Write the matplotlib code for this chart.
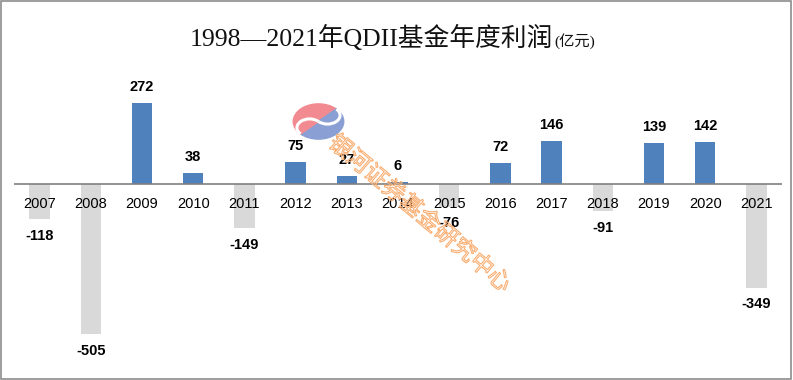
import math
import matplotlib
matplotlib.use("Agg")
import matplotlib.pyplot as plt
from matplotlib.patches import Wedge, Arc, Rectangle, PathPatch
from matplotlib.textpath import TextPath
from matplotlib.font_manager import FontProperties
from matplotlib.transforms import Affine2D, IdentityTransform

# data
years = ["2007", "2008", "2009", "2010", "2011", "2012", "2013", "2014",
         "2015", "2016", "2017", "2018", "2019", "2020", "2021"]
profits = [-118, -505, 272, 38, -149, 75, 27, 6, -76, 72, 146, -91, 139, 142, -349]

blue = "#4F81BD"
gray = "#D9D9D9"
lab_font = ["Liberation Sans", "DejaVu Sans"]
title_font = ["Liberation Serif", "Noto Sans CJK SC"]

fig = plt.figure(figsize=(7.93, 3.80), dpi=100)
ax = fig.add_axes([14 / 793, 10 / 380, 768 / 793, 310 / 380])

x = list(range(len(years)))
colors = [blue if v >= 0 else gray for v in profits]
ax.bar(x, profits, width=0.4, color=colors, zorder=2)
ax.axhline(0, color="#808080", lw=1.2, zorder=3)

ax.set_xlim(-0.5, len(years) - 0.5)
ax.set_ylim(-626, 417)
ax.axis("off")

for i, v in enumerate(profits):
    # year label under the axis line
    ax.annotate(years[i], (i, 0), xytext=(0, -14.5), textcoords="offset points",
                ha="center", va="center", fontsize=10.5, family=lab_font,
                color="#000000", zorder=4)
    off = 11.5 if v >= 0 else -12
    ax.annotate(str(v), (i, v), xytext=(0, off), textcoords="offset points",
                ha="center", va="center", fontsize=10.5, fontweight="bold",
                family=lab_font, color="#000000", zorder=4)

# title, unit part a bit smaller right after it
t = fig.text(190 / 793, 0.9, "1998\u20142021年QDII基金年度利润", ha="left", va="center",
             fontsize=18.5, family=title_font, color="#111111")
ax.annotate("(亿元)", xy=(1, 0.5), xycoords=t, xytext=(1, -2),
            textcoords="offset points", ha="left", va="center",
            fontsize=11, family=title_font, color="#111111",
            annotation_clip=False)

# watermark logo
lax = fig.add_axes([292 / 793, 240 / 380, 53 / 793, 37 / 380])
lax.set_xlim(-1.05, 1.05)
lax.set_ylim(-1.05, 1.05)
lax.axis("off")
rot = 225
pink, lblue = "#F28B91", "#8A9FD3"
lax.add_patch(Wedge((0, 0), 1, rot - 180, rot, color=pink))
lax.add_patch(Wedge((0, 0), 1, rot, rot + 180, color=lblue))
cx, cy = 0.5 * math.cos(math.radians(rot)), 0.5 * math.sin(math.radians(rot))
lax.add_patch(Wedge((cx, cy), 0.5, rot - 180, rot, color=pink))
lax.add_patch(Wedge((-cx, -cy), 0.5, rot, rot + 180, color=lblue))
lax.add_patch(Arc((cx, cy), 1.0, 1.0, theta1=rot - 180, theta2=rot, color="white", lw=2.2))
lax.add_patch(Arc((-cx, -cy), 1.0, 1.0, theta1=rot, theta2=rot + 180, color="white", lw=2.2))

# watermark text, outlined only
tp = TextPath((0, 0), "银河证券基金研究中心", size=23,
              prop=FontProperties(family="Noto Sans CJK SC"))
bb = tp.get_extents()
tr = (Affine2D().translate(-(bb.x0 + bb.x1) / 2, -(bb.y0 + bb.y1) / 2)
      .rotate_deg(-40).translate(421, 380 - 212)) + IdentityTransform()
fig.add_artist(PathPatch(tp, transform=tr, fc="none", ec="#F9AE72", lw=0.8,
                         zorder=10))

# frame
fig.patches.append(Rectangle((0.001, 0.003), 0.997, 0.994, transform=fig.transFigure,
                             fill=False, ec="#8C8C8C", lw=1.2))

fig.savefig("out.png", dpi=100)
